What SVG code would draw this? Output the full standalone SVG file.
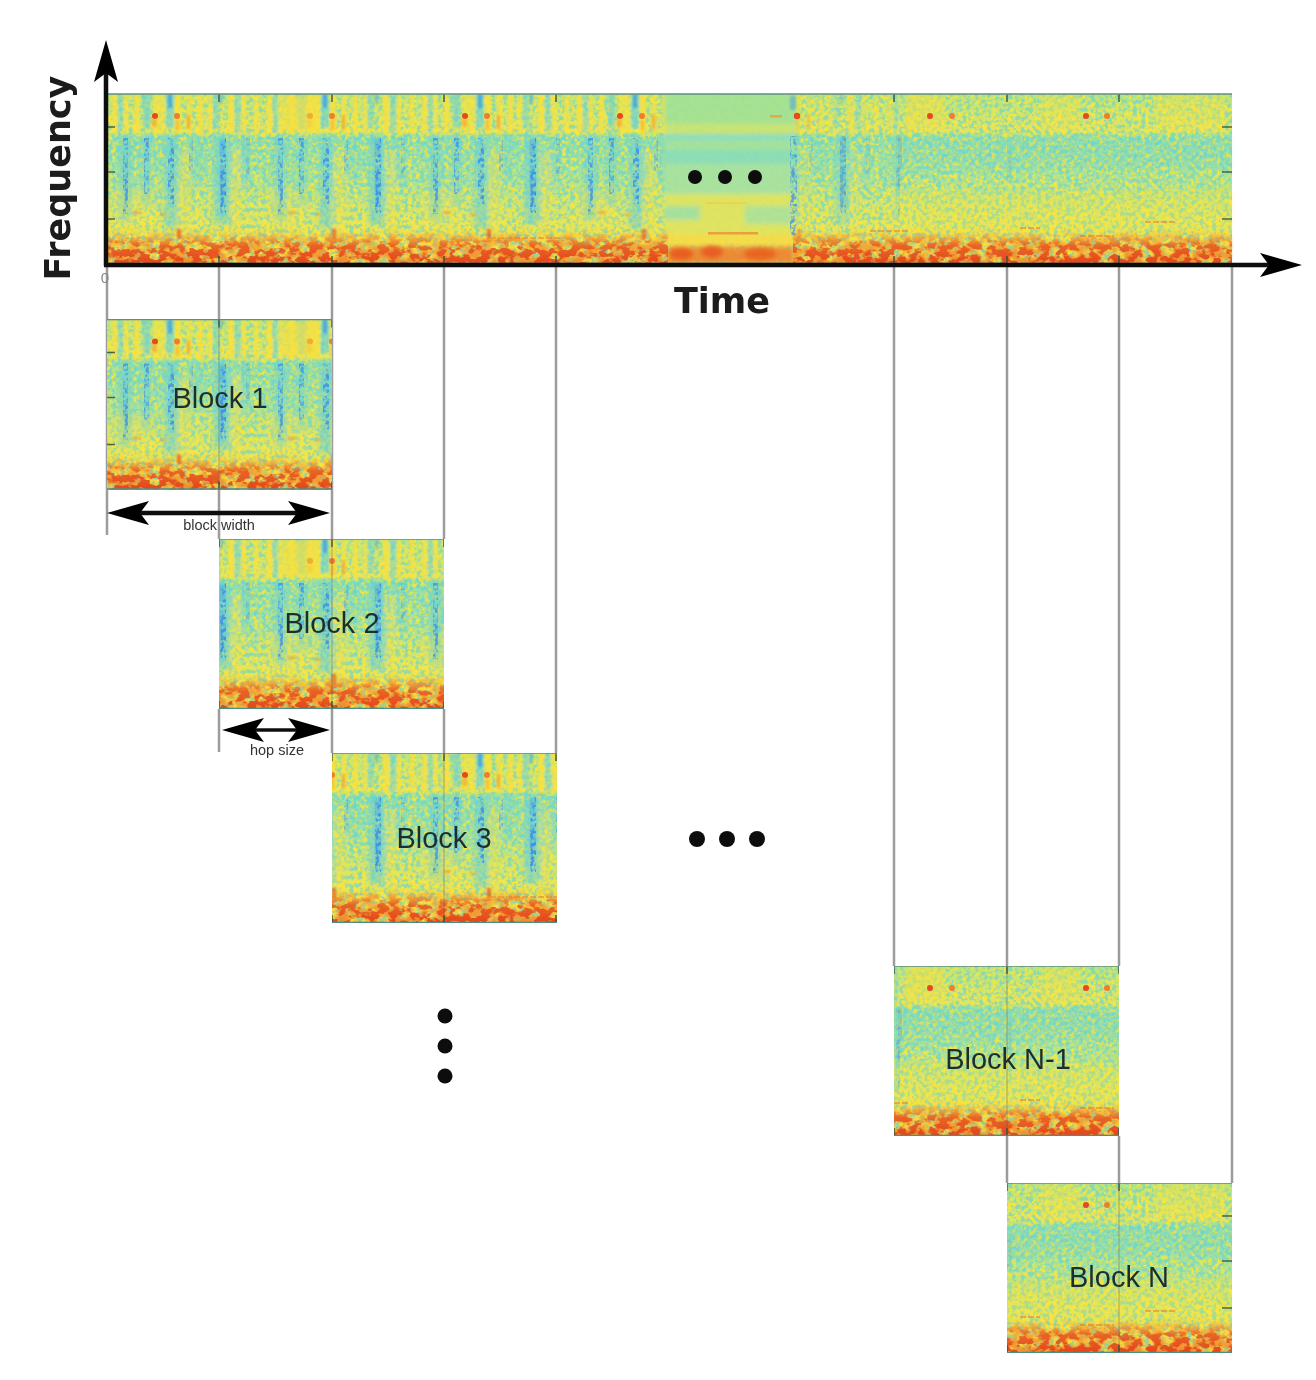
<svg xmlns="http://www.w3.org/2000/svg" xmlns:xlink="http://www.w3.org/1999/xlink" width="1316" height="1380" viewBox="0 0 1316 1380">
<style>
.lbl{font-family:"Liberation Sans",Arial,sans-serif;font-size:29px;fill:#1d2f2e;text-anchor:middle}
.small{font-family:"Liberation Sans",Arial,sans-serif;font-size:14.5px;fill:#333;text-anchor:middle}
.axis{font-family:"DejaVu Sans",Verdana,sans-serif;font-weight:bold;font-size:35px;fill:#1a1a1a;text-anchor:middle}
.guide{stroke:#9c9c9c;stroke-width:2.5;fill:none}
.faint{stroke:#555;stroke-opacity:.22;stroke-width:2;fill:none}
.dot{fill:#0c0c0c}
.tick{stroke:#2f5040;stroke-width:1.6;stroke-opacity:.85;fill:none}
.blue{fill:#3f94e4}
.teal{fill:#62d0dc}
.yel{fill:#fae23c}
.red{fill:#e8481e}
.org{fill:#f49a30}
</style>
<defs>
<linearGradient id="base" gradientUnits="userSpaceOnUse" x1="0" y1="94" x2="0" y2="264">
<stop offset="0" stop-color="#b8e480"/><stop offset=".22" stop-color="#e4e460"/><stop offset=".25" stop-color="#8fdfae"/>
<stop offset=".5" stop-color="#a8e29c"/><stop offset=".68" stop-color="#d6e46c"/><stop offset=".84" stop-color="#f4e44c"/><stop offset=".92" stop-color="#f8d840"/><stop offset="1" stop-color="#f4b838"/>
</linearGradient>
<linearGradient id="rise" gradientUnits="userSpaceOnUse" x1="0" y1="234" x2="0" y2="264">
<stop offset="0" stop-color="#ee6a24" stop-opacity=".1"/><stop offset=".4" stop-color="#e8541e" stop-opacity=".85"/><stop offset="1" stop-color="#e4451c"/>
</linearGradient>
<linearGradient id="riseO" gradientUnits="userSpaceOnUse" x1="0" y1="228" x2="0" y2="264">
<stop offset="0" stop-color="#f4a030" stop-opacity="0"/><stop offset=".5" stop-color="#f4982e" stop-opacity=".75"/><stop offset="1" stop-color="#f08a2c"/>
</linearGradient>
<filter id="speck" filterUnits="userSpaceOnUse" x="100" y="90" width="1140" height="180">
<feTurbulence type="fractalNoise" baseFrequency=".24" numOctaves="2" seed="4"/>
<feColorMatrix values="0 0 0 0 0 0 0 0 0 0 0 0 0 0 0 5 0 0 0 -2.25"/>
<feComposite in="SourceGraphic" operator="in"/>
<feGaussianBlur stdDeviation=".55"/>
</filter>
<filter id="speck2" filterUnits="userSpaceOnUse" x="100" y="90" width="1140" height="180">
<feTurbulence type="fractalNoise" baseFrequency=".24" numOctaves="2" seed="11"/>
<feColorMatrix values="0 0 0 0 0 0 0 0 0 0 0 0 0 0 0 0 5 0 0 -2.25"/>
<feComposite in="SourceGraphic" operator="in"/>
<feGaussianBlur stdDeviation=".55"/>
</filter>
<filter id="clump" filterUnits="userSpaceOnUse" x="100" y="225" width="1140" height="45">
<feTurbulence type="fractalNoise" baseFrequency=".1 .14" numOctaves="3" seed="21"/>
<feColorMatrix values="0 0 0 0 0 0 0 0 0 0 0 0 0 0 0 8 0 0 0 -3.5"/>
<feComposite in="SourceGraphic" operator="in"/>
<feGaussianBlur stdDeviation=".6"/>
</filter>
<filter id="clump2" filterUnits="userSpaceOnUse" x="100" y="225" width="1140" height="45">
<feTurbulence type="fractalNoise" baseFrequency=".08 .12" numOctaves="2" seed="5"/>
<feColorMatrix values="0 0 0 0 0 0 0 0 0 0 0 0 0 0 0 7 0 0 0 -2.9"/>
<feComposite in="SourceGraphic" operator="in"/>
<feGaussianBlur stdDeviation=".8"/>
</filter>
<filter id="soft" filterUnits="userSpaceOnUse" x="100" y="90" width="1140" height="180"><feGaussianBlur stdDeviation="1.2"/></filter>
<filter id="softer" filterUnits="userSpaceOnUse" x="100" y="90" width="1140" height="180"><feGaussianBlur stdDeviation="2.8"/></filter>
<filter id="softq" filterUnits="userSpaceOnUse" x="100" y="90" width="1140" height="180"><feGaussianBlur stdDeviation="2.2"/></filter>
<filter id="global" filterUnits="userSpaceOnUse" x="0" y="0" width="1316" height="1380"><feGaussianBlur stdDeviation=".4"/></filter>
<clipPath id="cLeft"><rect x="107" y="94" width="560" height="170"/></clipPath>
<clipPath id="cMid"><rect x="795" y="94" width="105" height="170"/></clipPath>
<clipPath id="cMain"><rect x="107" y="94" width="1125" height="170"/></clipPath>
<clipPath id="c1"><rect x="107" y="319" width="225" height="171"/></clipPath>
<clipPath id="c2"><rect x="219" y="539" width="225" height="170"/></clipPath>
<clipPath id="c3"><rect x="332" y="753" width="225" height="170"/></clipPath>
<clipPath id="c4"><rect x="894" y="966" width="225" height="170"/></clipPath>
<clipPath id="c5"><rect x="1007" y="1183" width="225" height="170"/></clipPath>
<g id="period">
<g filter="url(#soft)">
<rect class="yel" x="112" y="94" width="5" height="40" opacity=".85"/><rect class="yel" x="124" y="94" width="4" height="40" opacity=".75"/>
<rect class="yel" x="134" y="94" width="5" height="40" opacity=".85"/><rect class="yel" x="153" y="94" width="12" height="40" opacity=".7"/>
<rect class="yel" x="175" y="94" width="6" height="40" opacity=".9"/><rect class="yel" x="187" y="94" width="5" height="40" opacity=".75"/>
<rect class="yel" x="198" y="94" width="5" height="40" opacity=".85"/><rect class="yel" x="208" y="94" width="4" height="40" opacity=".75"/>
<rect class="yel" x="228" y="94" width="6" height="40" opacity=".85"/>
<rect class="yel" x="242" y="94" width="4" height="40" opacity=".85"/><rect class="yel" x="254" y="94" width="5" height="40" opacity=".75"/>
<rect class="teal" x="118" y="94" width="5" height="38" opacity=".45"/><rect class="teal" x="143" y="94" width="7" height="34" opacity=".55"/>
<rect class="teal" x="166" y="94" width="8" height="34" opacity=".6"/><rect class="teal" x="213" y="94" width="6" height="34" opacity=".45"/>
<rect class="teal" x="235" y="94" width="6" height="38" opacity=".45"/>
<rect class="blue" x="168" y="94" width="4" height="14" opacity=".7"/><rect class="blue" x="220" y="94" width="3" height="10" opacity=".4"/>
</g>
<g filter="url(#softer)">
<rect class="teal" x="119" y="136" width="13" height="85" opacity=".5"/><rect class="teal" x="141" y="136" width="11" height="70" opacity=".42"/>
<rect class="teal" x="164" y="136" width="14" height="92" opacity=".5"/><rect class="teal" x="192" y="136" width="12" height="46" opacity=".28"/>
<rect class="teal" x="214" y="136" width="16" height="88" opacity=".55"/><rect class="teal" x="240" y="136" width="10" height="52" opacity=".28"/>
<rect class="yel" x="180" y="150" width="10" height="85" opacity=".4"/><rect class="yel" x="232" y="150" width="8" height="85" opacity=".4"/>
<rect class="yel" x="112" y="190" width="40" height="40" opacity=".25"/>
</g>
<g filter="url(#speck)">
<rect class="blue" x="123" y="138" width="5" height="76" opacity=".85"/><rect class="blue" x="144" y="138" width="5" height="56" opacity=".85"/>
<rect class="blue" x="168" y="138" width="6" height="66" opacity=".9"/><rect class="blue" x="189" y="138" width="4" height="34" opacity=".5"/>
<rect class="blue" x="220" y="138" width="6" height="76"/><rect class="blue" x="246" y="138" width="4" height="36" opacity=".5"/>
</g>
<rect class="blue" x="220" y="140" width="5" height="16" opacity=".35" filter="url(#soft)"/>
<rect class="blue" x="220" y="165" width="5" height="30" opacity=".28" filter="url(#soft)"/>
<circle class="red" cx="155" cy="116" r="3"/><circle fill="#f07c30" cx="177" cy="116" r="3"/>
<g filter="url(#soft)"><rect class="org" x="152" y="119" width="5" height="8" opacity=".6"/><rect class="org" x="176" y="120" width="3" height="10" opacity=".5"/>
<rect class="org" x="187" y="115" width="3" height="14" opacity=".7"/>
<rect class="org" x="133" y="211" width="8" height="3" opacity=".6"/><rect class="org" x="160" y="213" width="6" height="3" opacity=".5"/>
<rect class="red" x="177" y="229" width="4" height="10" opacity=".7"/></g>
</g>
<g id="spec">
<rect x="107" y="94" width="1125" height="170" fill="url(#base)"/>
<rect x="107" y="94" width="1125" height="170" fill="#fce73a" filter="url(#speck)" opacity=".85"/>
<rect x="107" y="94" width="1125" height="170" fill="#5ed2d8" filter="url(#speck2)" opacity=".6"/>
<g clip-path="url(#cLeft)">
<use href="#period"/>
<use href="#period" transform="translate(155,0)"/>
<use href="#period" transform="translate(310,0)"/>
<use href="#period" transform="translate(465,0)"/>
</g>
<g clip-path="url(#cMid)" opacity=".6"><use href="#period" transform="translate(620,0)"/><use href="#period" transform="translate(775,0)"/></g>
<rect x="283" y="96" width="35" height="36" fill="#f8e040" opacity=".65" filter="url(#soft)"/>
<g clip-path="url(#cMain)"><g id="quiet" filter="url(#softq)" opacity=".92">
<rect x="664" y="90" width="132" height="34" fill="#a4e294"/>
<rect x="664" y="124" width="132" height="10" fill="#c8e474"/>
<rect x="664" y="134" width="132" height="6" fill="#8adec0"/>
<rect x="664" y="140" width="132" height="10" fill="#a4e29c"/>
<rect x="664" y="150" width="132" height="14" fill="#8adeb8"/>
<rect x="664" y="164" width="132" height="30" fill="#a8e2a0"/>
<rect x="664" y="194" width="132" height="40" fill="#e0e460"/>
<rect x="664" y="206" width="36" height="14" fill="#a4e0a0"/>
<rect x="745" y="206" width="48" height="18" fill="#aee298"/>
<rect x="664" y="234" width="132" height="12" fill="#f6dc48"/>
</g></g>
<rect x="708" y="232" width="50" height="2.5" fill="#ee8a30" opacity=".75"/>
<rect x="706" y="202" width="40" height="2" fill="#f4cc40" opacity=".7"/>
<rect x="668" y="247" width="125" height="16" fill="#ee8430" filter="url(#softq)" opacity=".9"/>
<g filter="url(#softq)"><ellipse cx="681" cy="254" rx="12" ry="6" fill="#e85e22"/><ellipse cx="712" cy="252" rx="11" ry="6" fill="#e85e22"/><ellipse cx="760" cy="254" rx="16" ry="6" fill="#e96524"/></g>
<g filter="url(#soft)">
<rect class="yel" x="905" y="95" width="40" height="36" opacity=".5"/><rect class="yel" x="1040" y="95" width="40" height="36" opacity=".35"/>
<rect class="yel" x="1155" y="95" width="70" height="36" opacity=".35"/>
<rect class="blue" x="790" y="96" width="6" height="14" opacity=".45"/>
</g>
<g filter="url(#softer)"><rect class="teal" x="900" y="138" width="332" height="30" opacity=".16"/><rect class="yel" x="900" y="190" width="332" height="40" opacity=".22"/></g>
<rect class="blue" x="790" y="136" width="7" height="100" filter="url(#speck)" opacity=".8"/>
<rect class="blue" x="840" y="136" width="6" height="75" filter="url(#speck)" opacity=".5"/><rect class="blue" x="896" y="136" width="6" height="50" filter="url(#speck)" opacity=".4"/>
<rect class="blue" x="1007" y="138" width="5" height="44" filter="url(#speck)" opacity=".25"/>
<circle class="red" cx="797" cy="116" r="3.2"/><rect x="770" y="115" width="12" height="2.5" class="org" opacity=".8"/>
<circle class="red" cx="930" cy="116" r="3"/><circle fill="#f07c30" cx="952" cy="116" r="3"/>
<circle class="red" cx="1086" cy="116" r="3"/><circle fill="#f07c30" cx="1107" cy="116" r="3"/>
<path d="M870 231h40M1145 222h30M1080 236h34M1020 228h20M490 238h70" stroke="#ee7a2a" stroke-width="1.8" stroke-opacity=".55" stroke-dasharray="6 2" fill="none"/>
<rect x="107" y="228" width="561" height="36" fill="url(#riseO)" filter="url(#clump2)"/>
<rect x="793" y="228" width="439" height="36" fill="url(#riseO)" filter="url(#clump2)"/>
<rect x="107" y="234" width="561" height="30" fill="url(#rise)" filter="url(#clump)"/>
<rect x="793" y="234" width="439" height="30" fill="url(#rise)" filter="url(#clump)"/>
<g class="tick">
<path d="M219 94v8M332 94v8M444 94v8M556 94v8M894 94v8M1007 94v8M1119 94v8M219 256v8M332 256v8M444 256v8M556 256v8M894 256v8M1007 256v8M1119 256v8"/>
<path d="M107 127h8M107 172h8M107 219h8M1232 127h-10M1232 172h-10M1232 219h-10"/>
</g>
<path d="M107 94H1232" stroke="#5f8f80" stroke-width="1.4" fill="none"/>
<path d="M107 263.5H1232" stroke="#4e8f80" stroke-width="1.6" fill="none"/>
</g>
<path id="headUp" d="M0 0L12 42L0 33L-12 42Z"/>
</defs>

<g filter="url(#global)">
<g id="connectors">
<path class="guide" d="M107 264V535M219 264V319M332 264V539M444 264V539M556 264V753M219 490V539M219 709V752M332 709V753M444 709V753M894 264V966M1007 264V966M1119 264V966M1232 264V1183M1007 1136V1183M1119 1136V1183"/>
</g>

<g id="spectrogram"><use href="#spec"/>
<g class="dot"><circle cx="695" cy="177" r="7"/><circle cx="725" cy="177" r="7"/><circle cx="755" cy="177" r="7"/></g>
</g>

<g id="block1"><g clip-path="url(#c1)"><use href="#spec" transform="translate(0,225.5)"/></g>
<path class="faint" d="M219 319V490"/><text class="lbl" x="220" y="408">Block 1</text></g>
<g id="block2"><g clip-path="url(#c2)"><use href="#spec" transform="translate(0,445)"/></g>
<path class="faint" d="M332 539V709"/><text class="lbl" x="332" y="633">Block 2</text></g>
<g id="block3"><g clip-path="url(#c3)"><use href="#spec" transform="translate(0,659)"/></g>
<path class="faint" d="M444 753V923"/><text class="lbl" x="444" y="848">Block 3</text></g>
<g id="blockN1"><g clip-path="url(#c4)"><use href="#spec" transform="translate(0,872)"/></g>
<path class="faint" d="M1007 966V1136"/><text class="lbl" x="1008" y="1069">Block N-1</text></g>
<g id="blockN"><g clip-path="url(#c5)"><use href="#spec" transform="translate(0,1089)"/></g>
<path class="faint" d="M1119 1183V1353"/><text class="lbl" x="1119" y="1287">Block N</text></g>

<g id="axes">
<path d="M106 266V70M104 265H1272" stroke="#111" stroke-width="4.5" fill="none"/>
<use href="#headUp" transform="translate(106,40)" fill="#000"/>
<use href="#headUp" transform="translate(1302,265) rotate(90)" fill="#000"/>
<text class="axis" x="722" y="313">Time</text>
<text class="axis" transform="translate(70,178) rotate(-90)">Frequency</text>
<text x="105" y="283" font-family="Liberation Sans, Arial, sans-serif" font-size="15" fill="#888" text-anchor="middle">0</text>
</g>

<g id="block-width">
<path d="M135 513H305" stroke="#111" stroke-width="4.5"/>
<use href="#headUp" transform="translate(107,513) rotate(-90)" fill="#000"/>
<use href="#headUp" transform="translate(330,513) rotate(90)" fill="#000"/>
<text class="small" x="219" y="530">block width</text>
</g>
<g id="hop-size">
<path d="M250 730H305" stroke="#111" stroke-width="3.5"/>
<use href="#headUp" transform="translate(222,730) rotate(-90)" fill="#000"/>
<use href="#headUp" transform="translate(330,730) rotate(90)" fill="#000"/>
<text class="small" x="277" y="755">hop size</text>
</g>

<g id="ellipsis-h" class="dot"><circle cx="697" cy="839" r="8"/><circle cx="727" cy="839" r="8"/><circle cx="757" cy="839" r="8"/></g>
<g id="ellipsis-v" class="dot"><circle cx="445" cy="1016" r="7.5"/><circle cx="445" cy="1046" r="7.5"/><circle cx="445" cy="1076" r="7.5"/></g>
</g>
</svg>
